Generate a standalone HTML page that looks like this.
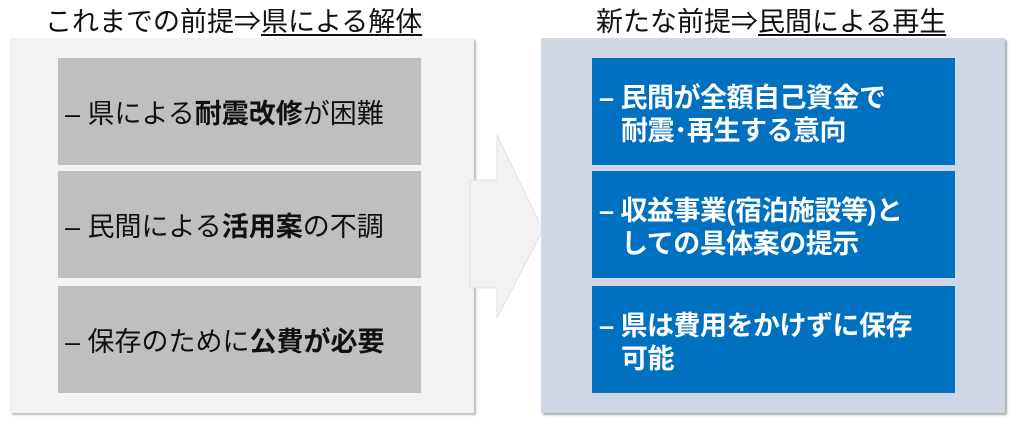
<!DOCTYPE html>
<html><head><meta charset="utf-8"><style>
body{margin:0;width:1024px;height:426px;background:#fff;position:relative;overflow:hidden;font-family:"Liberation Sans","Noto Sans CJK JP",sans-serif;}
.t{position:absolute;top:0px;font-size:27px;color:#111;white-space:nowrap;}
.t u{text-decoration:underline;text-underline-offset:3px;}
.pl{position:absolute;left:10px;top:38px;width:464px;height:375px;background:#f2f2f2;box-shadow:2px 2px 2px #bbb;}
.pr{position:absolute;left:541px;top:38px;width:464px;height:375px;background:#cfd7e5;box-shadow:2px 2px 2px #aaa;}
.g{position:absolute;left:58px;width:363px;height:107px;background:#bfbfbf;font-size:27px;color:#111;display:flex;align-items:center;padding-left:7px;box-sizing:border-box;white-space:nowrap;}
.b{position:absolute;left:592px;width:363px;height:107px;background:#0070c0;font-size:27px;font-weight:bold;color:#fff;box-sizing:border-box;padding:24px 0 0 7px;line-height:33px;white-space:nowrap;letter-spacing:-0.5px;}
.b .i{padding-left:22px;}
</style></head><body>
<div class="t" style="left:45px">これまでの前提⇒<u>県による解体</u></div>
<div class="t" style="left:596px">新たな前提⇒<u>民間による再生</u></div>
<div class="pl"></div>
<svg style="position:absolute;left:0;top:0" width="1024" height="426"><polygon points="470,180 497,180 497,135 543,230 497,318 497,288 470,288" fill="#f2f2f2" stroke="#e0e0e0" stroke-width="1"/></svg>
<div class="pr"></div>
<div class="g" style="top:58px">– 県による<b>耐震改修</b>が困難</div>
<div class="g" style="top:171px">– 民間による<b>活用案</b>の不調</div>
<div class="g" style="top:286px">– 保存のために<b>公費が必要</b></div>
<div class="b" style="top:58px">– 民間が全額自己資金で<br><span class="i">耐震･再生する意向</span></div>
<div class="b" style="top:171px">– 収益事業(宿泊施設等)と<br><span class="i">しての具体案の提示</span></div>
<div class="b" style="top:286px">– 県は費用をかけずに保存<br><span class="i">可能</span></div>
</body></html>
